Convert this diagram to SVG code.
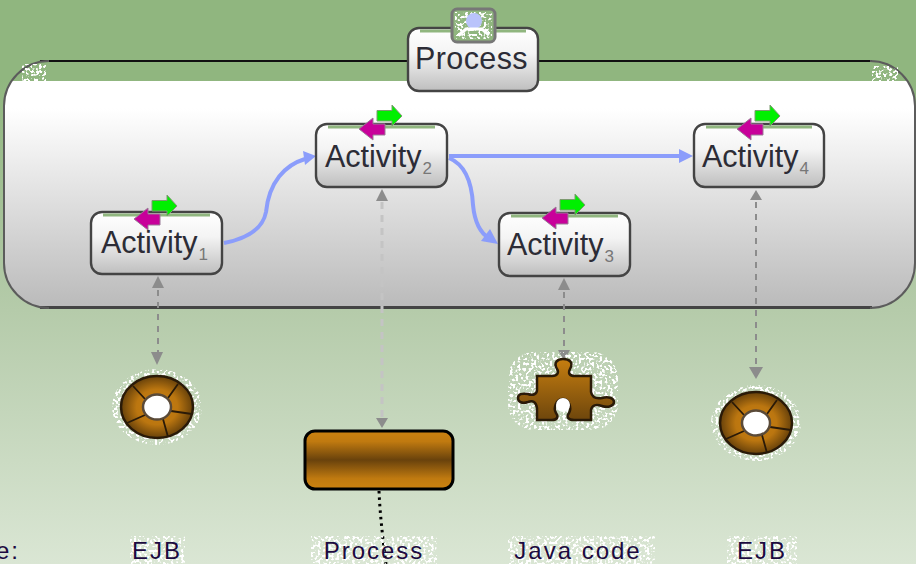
<svg xmlns="http://www.w3.org/2000/svg" width="916" height="564" viewBox="0 0 916 564">
<style>
text{font-family:"Liberation Sans",Arial,sans-serif}
.t{font-size:30.5px;fill:#2c2c36}
.s{font-size:17px;fill:#777}
.l{font-size:24px;fill:#1c0a40;letter-spacing:2px;text-anchor:middle}
.n{fill:url(#ng);stroke:#444;stroke-width:2.4}
.strip{fill:none;stroke:#90b67f;stroke-width:3}
.c{fill:none;stroke:#8b9dfb;stroke-width:4}
.d{fill:none;stroke:#8c8c8c;stroke-width:2;stroke-dasharray:6 6}
.dl{fill:none;stroke:#c4c4c4;stroke-width:3;stroke-dasharray:7 6}
.h{fill:#8c8c8c}
.sp{fill:#fff;filter:url(#spk)}
.seg{fill:none;stroke:#2a1a08;stroke-width:1.800}
</style>
<defs>
<filter id="spk" x="0" y="0" width="1" height="1" color-interpolation-filters="sRGB">
<feTurbulence type="fractalNoise" baseFrequency=".38" numOctaves="1" seed="4" result="n"/>
<feColorMatrix in="n" type="matrix" values="0 0 0 0 1 0 0 0 0 1 0 0 0 0 1 14 0 0 0 -7.200" result="m"/>
<feComposite in="SourceGraphic" in2="m" operator="in"/>
</filter>
<linearGradient id="bg" gradientUnits="userSpaceOnUse" x1="0" y1="0" x2="0" y2="564">
<stop offset="0" stop-color="#90b67f"/><stop offset=".14" stop-color="#90b67f"/><stop offset=".55" stop-color="#b5cbaa"/><stop offset="1" stop-color="#dae6d4"/>
</linearGradient>
<linearGradient id="big" gradientUnits="userSpaceOnUse" x1="0" y1="81" x2="0" y2="308">
<stop offset="0" stop-color="#fff"/><stop offset=".12" stop-color="#fff"/><stop offset="1" stop-color="#bababa"/>
</linearGradient>
<linearGradient id="ng" x1="0" y1="0" x2="0" y2="1">
<stop offset="0" stop-color="#fff"/><stop offset=".4" stop-color="#f4f4f4"/><stop offset="1" stop-color="#bebebe"/>
</linearGradient>
<linearGradient id="br" x1="0" y1="0" x2="0" y2="1">
<stop offset="0" stop-color="#cc8210"/><stop offset=".18" stop-color="#c07a10"/><stop offset=".5" stop-color="#69420c"/><stop offset=".82" stop-color="#c07a10"/><stop offset="1" stop-color="#cc8210"/>
</linearGradient>
<radialGradient id="dn" cx=".5" cy=".5" r=".52">
<stop offset="0" stop-color="#c98010"/><stop offset=".55" stop-color="#bb7610"/><stop offset="1" stop-color="#5f3c0a"/>
</radialGradient>
<linearGradient id="pz" x1="0" y1="0" x2="0" y2="1">
<stop offset="0" stop-color="#c67e10"/><stop offset="1" stop-color="#6e460c"/>
</linearGradient>
<clipPath id="cb"><rect x="0" y="81" width="916" height="240"/></clipPath>
<g id="arrows">
<path d="M0,-13.500 H15 V-19 L25,-8 L15,2 V-3 H0Z" transform="translate(61,0)" fill="#00f000" stroke="#7d9a70" stroke-width="1"/>
<path d="M26,0 H14 V-6 L0,5 L14,16 V11 H26Z" transform="translate(43,0)" fill="#c8009a" stroke="#9a7a96" stroke-width="1"/>
</g>
<g id="donut">
<ellipse rx="36" ry="31" fill="url(#dn)" stroke="#2a1a08" stroke-width="2.500"/>
<path class="seg" d="M-12,-8 L-24,-21 M11,-9 L21,-23 M14,4 L35,7 M6,12 L11,30 M-12,8 L-30,16"/>
<ellipse rx="14" ry="12.500" fill="#fff" stroke="#5a4a38" stroke-width="2.500"/>
</g>
</defs>

<rect width="916" height="564" fill="url(#bg)"/>

<g id="process-container">
<rect x="4" y="61" width="911" height="247" rx="45" fill="url(#big)" clip-path="url(#cb)"/>
<path d="M40,61 H872" fill="none" stroke="#111" stroke-width="2"/>
<path d="M40,307.500 H872" fill="none" stroke="#444" stroke-width="3"/>
<path d="M49,61 A45,45 0 0 0 4,106 V263 A45,45 0 0 0 49,308 M870,61 A45,45 0 0 1 915,106 V263 A45,45 0 0 1 870,308" fill="none" stroke="#5c5c5c" stroke-width="2"/>
<rect x="22" y="64" width="24" height="18" class="sp"/>
<rect x="872" y="66" width="26" height="24" class="sp"/>
</g>

<g id="connectors">
<path class="c" d="M224,243 C250,238 263,228 266,212 C269,182 285,165 305,159"/>
<path d="M316,156 L303,151 L305,165Z" fill="#8b9dfb"/>
<path class="c" d="M449,156 H682"/>
<path d="M693,156 L679,149 V163Z" fill="#8b9dfb"/>
<path class="c" d="M449,158 C466,165 472,185 473,205 C475,225 482,234 489,238"/>
<path d="M498,244 L490,229 L481,241Z" fill="#8b9dfb"/>
<path class="d" d="M158,290 V352"/><path class="h" d="M158,276 L152,288 H164Z"/><path class="h" d="M157,365 L151,352 H163Z"/>
<path class="dl" d="M382,202 V418"/><path class="h" d="M382,189 L376,201 H388Z"/><path class="h" d="M382,428 L376,418 H388Z"/>
<path class="d" d="M564,292 V350"/><path class="h" d="M564,278 L558,290 H570Z"/><path class="h" d="M564,361 L558,350 H570Z"/>
<path class="d" d="M756,202 V366"/><path class="h" d="M756,190 L750,200 H762Z"/><path class="h" d="M756,379 L749,367 H763Z"/>
</g>

<g id="process">
<rect class="n" x="408" y="28" width="130" height="63" rx="11"/>
<path class="strip" d="M420,31 H526"/>
<text class="t" x="415" y="69" style="letter-spacing:.4px">Process</text>
<rect x="452" y="9" width="43" height="33" rx="5" fill="#90b67f" stroke="#777" stroke-width="3"/>
<rect x="455" y="12" width="37" height="27" class="sp"/>
<circle cx="474" cy="21" r="8" fill="#b9c3fb"/>
<path d="M459,35 L466,29 H482 L489,35" stroke="#fff" stroke-width="3" fill="none"/>
</g>

<g id="activity1">
<rect class="n" x="91" y="212" width="131" height="62" rx="11"/>
<path class="strip" d="M103,215 H210"/>
<use href="#arrows" x="91" y="214"/>
<text class="t" x="101" y="253">Activity<tspan class="s" dy="7" dx="1">1</tspan></text>
</g>
<g id="activity2">
<rect class="n" x="316" y="124" width="131" height="63" rx="11"/>
<path class="strip" d="M328,127 H435"/>
<use href="#arrows" x="316" y="124"/>
<text class="t" x="325" y="167">Activity<tspan class="s" dy="7" dx="1">2</tspan></text>
</g>
<g id="activity3">
<rect class="n" x="499" y="213" width="131" height="63" rx="11"/>
<path class="strip" d="M511,216 H618"/>
<use href="#arrows" x="499" y="213"/>
<text class="t" x="507" y="255">Activity<tspan class="s" dy="7" dx="1">3</tspan></text>
</g>
<g id="activity4">
<rect class="n" x="694" y="124" width="130" height="63" rx="11"/>
<path class="strip" d="M706,127 H812"/>
<use href="#arrows" x="694" y="124"/>
<text class="t" x="702" y="167">Activity<tspan class="s" dy="7" dx="1">4</tspan></text>
</g>

<g id="ejb1">
<ellipse cx="157" cy="407" rx="45" ry="38" class="sp"/>
<use href="#donut" x="157" y="407"/>
</g>
<g id="process-rect">
<rect x="305" y="431" width="148" height="58" rx="10" fill="url(#br)" stroke="#000" stroke-width="3"/>
<path d="M379,491 C380,515 383,540 386,564" fill="none" stroke="#000" stroke-width="3" stroke-dasharray="2.500 4"/>
</g>
<g id="java">
<rect x="508" y="352" width="110" height="78" rx="26" class="sp"/>
<path d="M537,376 H552 C558,376 559,372 557,369 C553,362 558,359 563,359 C569,359 574,362 570,369 C568,373 569,376 575,376 H591 V392 C592,397 596,399 602,398 C608,396 614,398 614,402 C614,406 608,408 602,406 C596,404 592,405 591,410 V420 H574 C568,420 566,417 569,413 C572,408 569,399 563,399 C556,399 553,408 556,413 C559,417 557,420 552,420 H537 V408 C536,402 533,400 528,402 C522,404 518,402 518,398 C518,394 522,393 528,394 C533,396 537,394 537,390Z" fill="url(#pz)" stroke="#2a1a08" stroke-width="2.500"/>
<circle cx="563" cy="405" r="7" fill="#fff"/>
</g>
<g id="ejb2">
<ellipse cx="756" cy="423" rx="45" ry="38" class="sp"/>
<use href="#donut" x="756" y="423"/>
</g>

<g id="labels">
<rect x="130" y="536" width="55" height="28" class="sp"/>
<rect x="311" y="536" width="126" height="28" class="sp"/>
<rect x="508" y="536" width="147" height="28" class="sp"/>
<rect x="727" y="536" width="70" height="28" class="sp"/>
<text class="l" x="-4" y="558.500" style="text-anchor:start">e:</text>
<text class="l" x="157" y="558.500">EJB</text>
<text class="l" x="374" y="558.500">Process</text>
<text class="l" x="578" y="558.500">Java code</text>
<text class="l" x="762" y="558.500">EJB</text>
</g>
</svg>
